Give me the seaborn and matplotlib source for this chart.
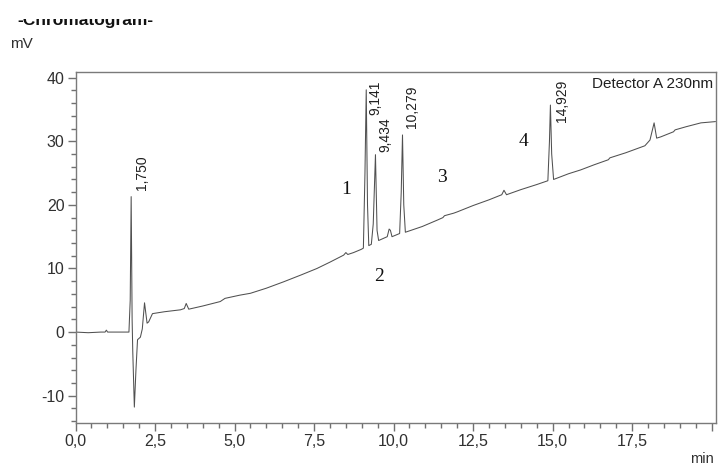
import matplotlib
matplotlib.use("Agg")
import matplotlib.pyplot as plt
import numpy as np
import pandas as pd
import seaborn as sns
from matplotlib.ticker import MultipleLocator, FuncFormatter
from matplotlib.patches import Rectangle

# ---------------- data ----------------
time_min = [0.00, 0.40, 0.80, 0.93, 0.97, 1.01, 1.40, 1.68, 1.72, 1.75,
            1.78, 1.80, 1.85, 1.90, 1.95, 2.04, 2.10, 2.17, 2.25, 2.30,
            2.42, 2.80, 3.30, 3.42, 3.48, 3.56, 4.00, 4.55, 4.70, 5.16,
            5.50, 6.00, 6.54, 7.10, 7.59, 8.00, 8.43, 8.50, 8.56, 8.74,
            8.98, 9.05, 9.10, 9.14, 9.18, 9.22, 9.30, 9.36, 9.43, 9.48,
            9.53, 9.80, 9.86, 9.90, 9.95, 10.19, 10.24, 10.28, 10.32, 10.37,
            10.90, 11.37, 11.55, 11.60, 11.89, 12.00, 12.50, 13.00, 13.40, 13.47,
            13.55, 14.00, 14.50, 14.85, 14.90, 14.93, 14.97, 15.03, 15.50, 15.88,
            16.30, 16.75, 16.80, 17.30, 17.90, 18.06, 18.19, 18.27, 18.40, 18.80,
            18.85, 19.20, 19.66, 20.12]
signal_mv = [0.0, -0.1, 0.0, 0.0, 0.3, 0.0, 0.0, 0.0, 5.0, 21.3,
             2.0, -3.0, -11.8, -6.0, -1.2, -0.8, 0.5, 4.6, 1.4, 1.6,
             2.9, 3.2, 3.5, 3.7, 4.5, 3.6, 4.1, 4.8, 5.3, 5.8,
             6.1, 6.9, 7.9, 9.0, 10.0, 11.0, 12.1, 12.5, 12.2, 12.5,
             13.0, 13.2, 25.0, 38.1, 20.0, 13.6, 13.8, 17.0, 27.9, 16.0,
             14.4, 15.0, 16.2, 16.0, 15.0, 15.5, 22.0, 31.0, 20.0, 15.7,
             16.6, 17.6, 18.0, 18.3, 18.7, 18.9, 19.9, 20.8, 21.6, 22.3,
             21.6, 22.4, 23.2, 23.8, 30.0, 35.7, 28.0, 24.0, 24.9, 25.5,
             26.3, 27.1, 27.4, 28.2, 29.3, 30.2, 32.9, 30.5, 30.7, 31.5,
             31.8, 32.3, 32.9, 33.1]

peak_labels = ["1,750", "9,141", "9,434", "10,279", "14,929"]
component_labels = ["1", "2", "3", "4"]

# ---------------- layout / style ----------------
peak_label_pos = [(2.09, 22.4), (9.43, 34.2), (9.74, 28.3), (10.59, 32.1), (15.28, 33.1)]
component_pos = [(8.51, 22.4), (9.55, 8.7), (11.53, 24.3), (14.09, 29.9)]

sns.set_style("ticks")
plt.rcParams["font.family"] = ["Liberation Sans Narrow", "Liberation Sans", "DejaVu Sans"]

W, H = 718, 467
fig = plt.figure(figsize=(W / 100, H / 100), dpi=100)
ax = fig.add_axes([75.5 / W, 1 - 423 / H, (715.5 - 75.5) / W, (423 - 72) / H])

df = pd.DataFrame({"time": time_min, "mV": signal_mv})
sns.lineplot(data=df, x="time", y="mV", ax=ax, color="#505050", lw=0.75,
             sort=False, estimator=None)

ax.set_xlim(0, 20.12)
ax.set_ylim(-14.3, 40.9)
ax.set_xlabel("")
ax.set_ylabel("")

ax.xaxis.set_major_locator(MultipleLocator(2.5))
ax.xaxis.set_minor_locator(MultipleLocator(0.5))
ax.yaxis.set_major_locator(MultipleLocator(10))
ax.yaxis.set_minor_locator(MultipleLocator(2))
ax.xaxis.set_major_formatter(FuncFormatter(
    lambda v, p: "" if v > 19.9 else f"{v:.1f}".replace(".", ",")))
ax.yaxis.set_major_formatter(FuncFormatter(lambda v, p: f"{int(round(v))}"))

ax.tick_params(which="major", direction="out", length=6, width=1,
               color="#707070", labelsize=11.5, labelcolor="#303030", pad=2)
ax.tick_params(which="minor", direction="out", length=3.5, width=1, color="#707070")
for s in ax.spines.values():
    s.set_visible(True)
    s.set_color("#7a7a7a")
    s.set_linewidth(1.0)

for lab, (x, y) in zip(peak_labels, peak_label_pos):
    ax.text(x, y, lab, rotation=90, ha="center", va="bottom", fontsize=10,
            family=["Liberation Sans", "DejaVu Sans"], color="#202020")

for lab, (x, y) in zip(component_labels, component_pos):
    ax.text(x, y, lab, ha="center", va="center", fontsize=14,
            family=["Liberation Serif", "DejaVu Serif"], color="#111111")

ax.text(0.997, 0.985, "Detector A 230nm", transform=ax.transAxes, ha="right",
        va="top", fontsize=11, color="#202020")

fig.text(10 / W, 1 - 44 / H, "mV", ha="left", va="center", fontsize=11, color="#303030")
fig.text(714 / W, 1 - 459 / H, "min", ha="right", va="center", fontsize=10.5, color="#303030")

fig.text(17 / W, 1 - 25 / H, "-Chromatogram-", ha="left", va="baseline", fontsize=12.5,
         fontweight="bold", family=["Liberation Sans", "DejaVu Sans"], color="#111111")
fig.patches.append(Rectangle((0, 1 - 18.5 / H), 0.4, 18.5 / H, transform=fig.transFigure,
                             facecolor="white", edgecolor="none", zorder=10))

fig.savefig("out.png", dpi=100)
